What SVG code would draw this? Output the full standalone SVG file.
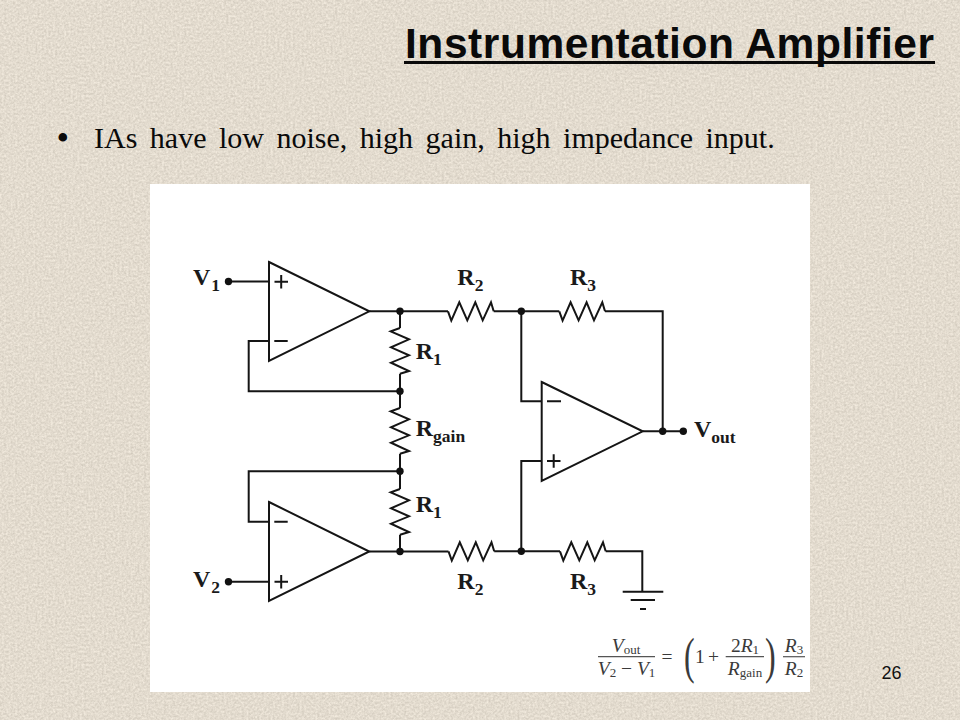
<svg xmlns="http://www.w3.org/2000/svg" width="960" height="720" viewBox="0 0 960 720">
<style>
.w{fill:none;stroke:#151515;stroke-width:2;stroke-linejoin:miter}
.d{fill:#111}
.oa{fill:#fff;stroke:#151515;stroke-width:2}
.l{font-family:"Liberation Serif",serif;font-weight:bold;font-size:24px;fill:#1a1a1a}
.s{font-size:17.5px}
.f{font-family:"Liberation Serif",serif;font-size:19.5px;fill:#3a3a3a}
.i{font-style:italic}
.fs{font-size:13px}
.fl{fill:none;stroke:#555;stroke-width:1.2}
</style>
<defs>
<filter id="paper" x="0" y="0" width="1" height="1" color-interpolation-filters="sRGB">
<feTurbulence type="fractalNoise" baseFrequency="0.45" numOctaves="3" seed="11"/>
<feColorMatrix type="matrix" values=".18 0 0 0 .8  .18 0 0 0 .77  .18 0 0 0 .72  0 0 0 0 1"/>
</filter>
<path id="res" class="w" d="M0 0L3.3 9.3L11.3 -9L19.3 9L27.3 -9L34.7 9L43 -9L45.7 0"/>
</defs>
<rect id="background" width="960" height="720" filter="url(#paper)"/>
<g id="title">
<text x="405" y="58" font-family="Liberation Sans, sans-serif" font-weight="bold" font-size="42.5" fill="#0a0a0a" textLength="529" lengthAdjust="spacing">Instrumentation Amplifier</text>
<rect x="404" y="61" width="531" height="3" fill="#0a0a0a"/>
</g>
<g id="bullet">
<text x="56.5" y="150" font-family="Liberation Serif, serif" font-size="36" fill="#0a0a0a">•</text>
<text x="94" y="148" font-family="Liberation Serif, serif" font-size="30" word-spacing="5" fill="#0a0a0a">IAs have low noise, high gain, high impedance input.</text>
</g>
<rect id="panel" x="150" y="184" width="660" height="508" fill="#fff"/>
<g id="connectors">
<path class="w" d="M228.5 281.5H269"/>
<path class="w" d="M228.5 581.7H269"/>
<path class="w" d="M269 341H248.7V391.3H400"/>
<path class="w" d="M269 521.7H248.7V471.3H400"/>
<path class="w" d="M369.3 311.3H448"/>
<path class="w" d="M369.3 551.5H448.5"/>
<path class="w" d="M400 311.3V328M400 373.7V408M400 453.7V489M400 534.7V551.5"/>
<path class="w" d="M493.7 311.3H559.3"/>
<path class="w" d="M494.2 551.3H560"/>
<path class="w" d="M605 311.3H662.7V431.3"/>
<path class="w" d="M605.7 551.3H642.3V591.7"/>
<path class="w" d="M521.3 311.3V401.3H541.7"/>
<path class="w" d="M521.3 551.3V461H541.7"/>
<path class="w" d="M642.7 431.3H683.3"/>
</g>
<g id="opamp-1">
<path class="oa" d="M269 262L369.3 311.3L269 361Z"/>
<path class="w" d="M274.5 281.7H288M281.2 275V288.4M274.3 341H287.7"/>
</g>
<g id="opamp-2">
<path class="oa" d="M269 502L369.3 551.5L269 601Z"/>
<path class="w" d="M274.5 581.7H288M281.2 575V588.4M274.3 521.7H287.7"/>
</g>
<g id="opamp-3">
<path class="oa" d="M541.7 382L642.7 431.3L541.7 481Z"/>
<path class="w" d="M547 461H560.5M553.7 454.3V467.7M547 401.2H561"/>
</g>
<g id="r1-top"><use href="#res" transform="translate(400 328) rotate(90)"/><text class="l" x="415.7" y="359">R<tspan class="s" dy="6">1</tspan></text></g>
<g id="r-gain"><use href="#res" transform="translate(400 408) rotate(90)"/><text class="l" x="415.7" y="436">R<tspan class="s" dy="6">gain</tspan></text></g>
<g id="r1-bottom"><use href="#res" transform="translate(400 489) rotate(90)"/><text class="l" x="415.7" y="512.3">R<tspan class="s" dy="6">1</tspan></text></g>
<g id="r2-top"><use href="#res" transform="translate(448 311.3)"/><text class="l" x="457.3" y="285">R<tspan class="s" dy="6">2</tspan></text></g>
<g id="r3-top"><use href="#res" transform="translate(559.3 311.3)"/><text class="l" x="570" y="285">R<tspan class="s" dy="6">3</tspan></text></g>
<g id="r2-bottom"><use href="#res" transform="translate(448.5 551.3)"/><text class="l" x="457.3" y="589.3">R<tspan class="s" dy="6">2</tspan></text></g>
<g id="r3-bottom"><use href="#res" transform="translate(560 551.3)"/><text class="l" x="570" y="589.3">R<tspan class="s" dy="6">3</tspan></text></g>
<g id="ground"><path class="w" d="M622.7 591.7H663.3M630.7 600H655M640 609H646"/></g>
<g id="junctions">
<circle class="d" cx="400" cy="311.3" r="3.7"/>
<circle class="d" cx="400" cy="391.3" r="3.7"/>
<circle class="d" cx="400" cy="471.3" r="3.7"/>
<circle class="d" cx="400" cy="551.5" r="3.7"/>
<circle class="d" cx="521.3" cy="311.3" r="3.7"/>
<circle class="d" cx="521.3" cy="551.3" r="3.7"/>
<circle class="d" cx="662.7" cy="431.3" r="3.7"/>
</g>
<g id="v1"><circle class="d" cx="228.5" cy="281.5" r="3.7"/><text class="l" x="193" y="285">V<tspan class="s" dx="1" dy="6">1</tspan></text></g>
<g id="v2"><circle class="d" cx="228.5" cy="581.7" r="3.7"/><text class="l" x="193" y="586.7">V<tspan class="s" dx="1" dy="6">2</tspan></text></g>
<g id="vout"><circle class="d" cx="683.3" cy="431.3" r="3.7"/><text class="l" x="694" y="436.7">V<tspan class="s" dy="6">out</tspan></text></g>
<g id="formula">
<text class="f i" x="626" y="651.5" text-anchor="middle">V<tspan class="fs" font-style="normal" dy="2">out</tspan></text>
<path class="fl" d="M598 656.7H655"/>
<text class="f i" x="626.5" y="675" text-anchor="middle">V<tspan class="fs" font-style="normal" dy="2">2</tspan><tspan dy="-2" font-style="normal"> − </tspan>V<tspan class="fs" font-style="normal" dy="2">1</tspan></text>
<text class="f" x="667" y="663" text-anchor="middle">=</text>
<text x="0" y="0" transform="translate(684 673) scale(.8 1.25)" font-family="Liberation Serif, serif" font-size="40" fill="#3a3a3a">(</text>
<text class="f" x="695" y="662.5">1</text>
<text class="f" x="713.5" y="662.5" text-anchor="middle">+</text>
<text class="f" x="745" y="651.5" text-anchor="middle">2<tspan class="i">R</tspan><tspan class="fs" dy="2">1</tspan></text>
<path class="fl" d="M725.7 656.7H764"/>
<text class="f i" x="745" y="675" text-anchor="middle">R<tspan class="fs" font-style="normal" dy="2">gain</tspan></text>
<text x="0" y="0" transform="translate(765 673) scale(.8 1.25)" font-family="Liberation Serif, serif" font-size="40" fill="#3a3a3a">)</text>
<text class="f i" x="794" y="651.5" text-anchor="middle">R<tspan class="fs" font-style="normal" dy="2">3</tspan></text>
<path class="fl" d="M783 656.7H805"/>
<text class="f i" x="794" y="675" text-anchor="middle">R<tspan class="fs" font-style="normal" dy="2">2</tspan></text>
</g>
<text x="881.5" y="678.5" font-family="Liberation Sans, sans-serif" font-size="18" fill="#111">26</text>
</svg>
